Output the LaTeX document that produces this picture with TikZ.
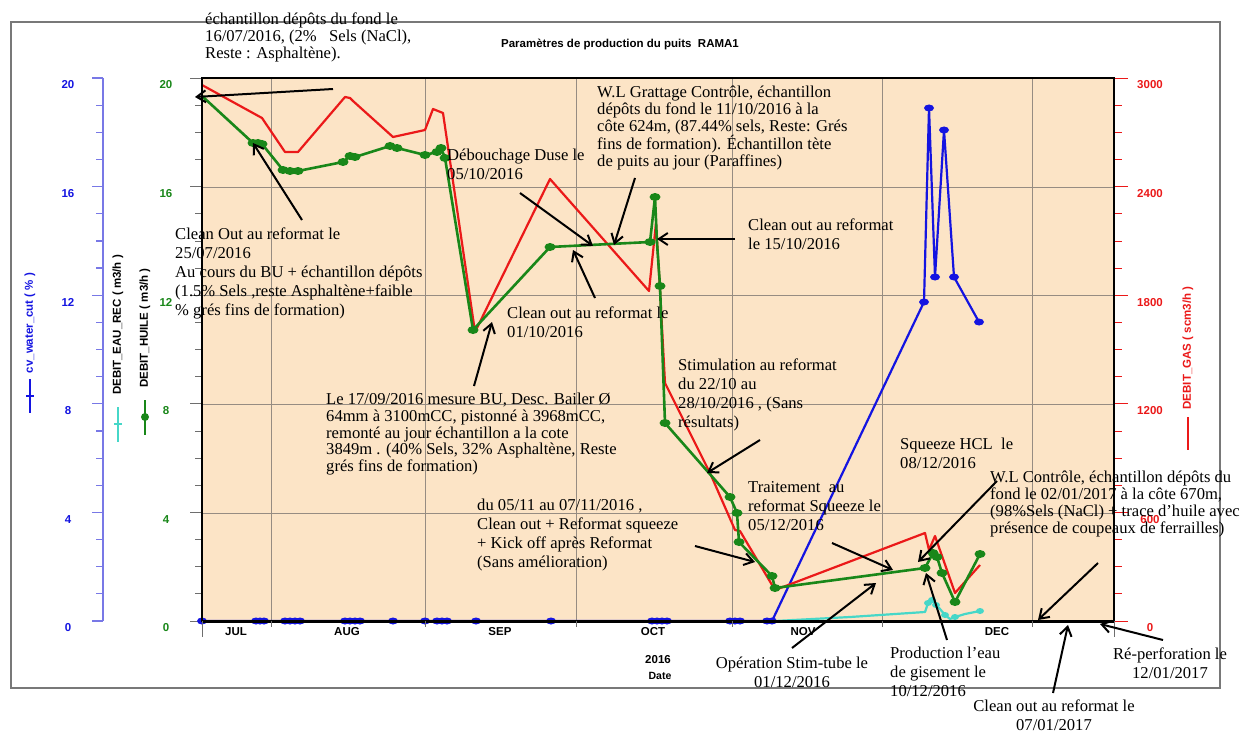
\documentclass[tikz,border=0pt]{standalone}
\usepackage{fontspec}
\setmainfont{Liberation Serif}
\setsansfont{Liberation Sans}
\usepackage{tikz}
\usetikzlibrary{positioning, calc, arrows.meta}
\definecolor{rmPeach}{RGB}{252,228,198}
\definecolor{rmBlue}{RGB}{20,20,225}
\definecolor{rmAxis}{RGB}{120,120,230}
\definecolor{rmGreen}{RGB}{25,135,25}
\definecolor{rmRed}{RGB}{235,25,25}
\definecolor{rmCyan}{RGB}{70,215,200}
\definecolor{rmGrid}{RGB}{150,140,130}
\definecolor{rmFrame}{RGB}{120,120,120}
\definecolor{rmTick}{RGB}{110,110,110}
\tikzset{
    base/.style={
        font=\sffamily\bfseries\fontsize{11.5}{13}\selectfont,
        inner sep=0pt
    },
    note/.style={
        font=\fontsize{16.6}{19}\selectfont,
        align=left,
        anchor=north west,
        inner sep=0pt
    },
    tight/.style={
        font=\fontsize{16.6}{16.7}\selectfont
    },
    pointer/.style={
        -{Straight Barb[length=9pt, width=12pt]},
        line width=2pt,
        black
    },
    gridline/.style={
        rmGrid,
        line width=0.7pt
    },
    series/.style={
        line width=2.2pt,
        line join=round
    }
}

\begin{document}
\begin{tikzpicture}[x=1pt, y=-1pt]
    \useasboundingbox (0,0) rectangle (1240,733);
    \fill[white] (0,0) rectangle (1240,733);

    % Outer frame and title
    \draw[rmFrame, line width=1.5pt] (11,22) rectangle (1220,688);
    \node[base] (title) at (620,44) {Paramètres de production du puits\ \ RAMA1};

    % Plot area and grid
    \fill[rmPeach] (202,78) rectangle (1114,621);
    \foreach \y in {187,295,404,513}
        \draw[gridline] (202,\y) -- (1114,\y);
    \foreach \x in {271,425,576,732,882,1032}
        \draw[gridline] (\x,78) -- (\x,621);

    % Left axis: cv_water_cut
    \draw[rmAxis, line width=1.2pt] (103,78) -- (103,621);
    \foreach \k in {0,...,20}
        \draw[rmAxis, line width=1.2pt] (96,{78+27.15*\k}) -- (103,{78+27.15*\k});
    \foreach \k in {0,...,5}
        \draw[rmAxis, line width=1.2pt] (92,{78+108.6*\k}) -- (103,{78+108.6*\k});
    \foreach \v [count=\i from 0] in {20,16,12,8,4,0}
        \node[base, text=rmBlue] at (68,{85+108.6*\i}) {\v};

    % Left axis: DEBIT_HUILE
    \foreach \k in {0,...,20}
        \draw[rmTick, line width=0.8pt] (195,{78+27.15*\k}) -- (202,{78+27.15*\k});
    \foreach \k in {0,...,5}
        \draw[rmTick, line width=0.8pt] (190,{78+108.6*\k}) -- (202,{78+108.6*\k});
    \foreach \v [count=\i from 0] in {20,16,12,8,4,0}
        \node[base, text=rmGreen] at (166,{85+108.6*\i}) {\v};

    % Right axis: DEBIT_GAS
    \foreach \k in {0,...,20}
        \draw[rmRed, line width=0.8pt] (1114,{78+27.15*\k}) -- (1122,{78+27.15*\k});
    \foreach \k in {0,...,5}
        \draw[rmRed, line width=0.8pt] (1114,{78+108.6*\k}) -- (1128,{78+108.6*\k});
    \foreach \v [count=\i from 0] in {3000,2400,1800,1200,600,0}
        \node[base, text=rmRed] at (1150,{85+108.6*\i}) {\v};

    % Axis titles with legend marks
    \node[base, rotate=90, text=rmBlue] (cvlbl) at (30,323) {cv\_water\_cut ( \% )};
    \draw[rmBlue, line width=2pt] (30,379) -- (30,413);
    \draw[rmBlue, line width=1.5pt] (26,396) -- (34,396);
    \node[base, rotate=90] (eaulbl) at (118,325) {DEBIT\_EAU\_REC ( m3/h )};
    \draw[rmCyan, line width=2pt] (118,407) -- (118,442);
    \draw[rmCyan, line width=1.5pt] (114,424) -- (122,424);
    \node[base, rotate=90] (huilelbl) at (145,328) {DEBIT\_HUILE ( m3/h )};
    \draw[rmGreen, line width=2pt] (145,400) -- (145,435);
    \fill[rmGreen] (145,417) circle (4pt);
    \node[base, rotate=90, text=rmRed] (gaslbl) at (1188,348) {DEBIT\_GAS ( scm3/h )};
    \draw[rmRed, line width=2pt] (1188,417) -- (1188,450);

    % Month labels
    \foreach \m/\x in {JUL/236, AUG/347, SEP/500, OCT/653, NOV/803, DEC/997}
        \node[base] at (\x,632) {\m};
    \node[base] (year) at (658,660) {2016};
    \node[base, font=\sffamily\bfseries\fontsize{10.5}{12}\selectfont] (datelbl) at (660,676) {Date};

    % Water cut
    \draw[rmBlue, series] (202,621) -- (772,621) -- (924,302) -- (929,108)
        -- (935,277) -- (944,130) -- (954,277) -- (979,322);
    \foreach \x in {202,256,260,264,285,290,295,300,345,350,355,360,393,425,437,442,447,476,551,652,657,662,667,730,735,740,767,772}
        \fill[rmBlue] (\x,621) ellipse (5pt and 3.5pt);
    \foreach \p in {(924,302),(929,108),(935,277),(944,130),(954,277),(979,322)}
        \fill[rmBlue] \p ellipse (5pt and 3.5pt);

    % Water rate
    \draw[rmCyan, series] (775,621) -- (850,617) -- (925,612) -- (928,603) -- (932,600)
        -- (936,605) -- (940,609) -- (945,615) -- (950,619) -- (955,617) -- (965,614) -- (980,611);
    \foreach \p in {(928,603),(932,600),(936,605),(945,615),(955,617),(980,611)}
        \fill[rmCyan] \p ellipse (4pt and 3pt);

    % Gas rate
    \draw[rmRed, series] (202,85) -- (262,118) -- (285,152) -- (298,152) -- (345,97)
        -- (350,98) -- (353,101) -- (393,137) -- (425,130) -- (433,109) -- (443,113)
        -- (475,332) -- (550,179) -- (649,291) -- (656,223) -- (660,290) -- (665,383)
        -- (710,473) -- (735,530) -- (740,531) -- (775,590) -- (925,533) -- (929,550)
        -- (935,536) -- (955,593) -- (980,565);

    % Oil rate
    \draw[rmGreen, series, line width=2.6pt] (202,96) -- (253,143) -- (258,143) -- (262,144)
        -- (283,170) -- (290,171) -- (298,171) -- (343,162) -- (350,156) -- (355,157)
        -- (390,146) -- (397,148) -- (425,155) -- (437,152) -- (441,148) -- (445,158)
        -- (473,330) -- (550,247) -- (650,242) -- (655,197) -- (657,243) -- (660,286)
        -- (665,423) -- (730,497) -- (737,513) -- (739,542) -- (772,576) -- (775,588)
        -- (925,568) -- (933,553) -- (937,557) -- (942,573) -- (955,602) -- (980,554);
    \foreach \p in {(253,143),(258,143),(262,144),(283,170),(290,171),(298,171),
        (343,162),(350,156),(355,157),(390,146),(397,148),(425,155),(437,152),
        (441,148),(445,158),(473,330),(550,247),(650,242),(655,197),(660,286),
        (665,423),(730,497),(737,513),(739,542),(772,576),(775,588),(925,568),
        (933,553),(937,557),(942,573),(955,602),(980,554)}
        \fill[rmGreen] \p ellipse (5.5pt and 4pt);

    % Plot frame and date axis
    \draw[black, line width=2pt] (202,78) rectangle (1114,621);
    \draw[black, line width=3pt] (202,621) -- (1114,621);
    \draw[rmRed, line width=1pt] (1114,621) -- (1128,621);
    \draw[rmTick, line width=1pt] (202,621) -- (202,637);
    \draw[rmTick, line width=1pt] (1114,621) -- (1114,637);
    \foreach \x in {271,425,576,732,882,1032}
        \draw[rmTick, line width=1pt] (\x,621) -- (\x,627);

    % Annotations
    \node[note, tight] (noteJul16) at (205,13) {échantillon dépôts du fond le\\16/07/2016, (2\%\ \ \ Sels (NaCl),\\Reste : Asphaltène).};
    \node[note] (noteJul25) at (175,228) {Clean Out au reformat le\\25/07/2016\\Au cours du BU + échantillon dépôts\\(1.5\% Sels ,reste Asphaltène+faible\\\% grés fins de formation)};
    \node[note, tight] (noteSep17) at (326,393) {Le 17/09/2016 mesure BU, Desc. Bailer Ø\\64mm à 3100mCC, pistonné à 3968mCC,\\remonté au jour échantillon a la cote\\3849m . (40\% Sels, 32\% Asphaltène, Reste\\grés fins de formation)};
    \node[note] (noteOct05) at (447,149) {Débouchage Duse le\\05/10/2016};
    \node[note, tight] (noteOct11) at (597,86) {W.L Grattage Contrôle, échantillon\\dépôts du fond le 11/10/2016 à la\\côte 624m, (87.44\% sels, Reste: Grés\\fins de formation). Échantillon tète\\de puits au jour (Paraffines)};
    \node[note] (noteOct15) at (748,219) {Clean out au reformat\\le 15/10/2016};
    \node[note] (noteOct01) at (507,307) {Clean out au reformat le\\01/10/2016};
    \node[note] (noteOct22) at (678,359) {Stimulation au reformat\\du 22/10 au\\28/10/2016 , (Sans\\résultats)};
    \node[note] (noteNov05) at (477,499) {du 05/11 au 07/11/2016 ,\\Clean out + Reformat squeeze\\+ Kick off après Reformat\\(Sans amélioration)};
    \node[note] (noteDec05) at (748,481) {Traitement\ \ au\\reformat Squeeze le\\05/12/2016};
    \node[note] (noteDec08) at (900,438) {Squeeze HCL\ \ le\\08/12/2016};
    \node[note, font=\fontsize{16.6}{17}\selectfont] (noteJan02) at (990,471) {W.L Contrôle, échantillon dépôts du\\fond le 02/01/2017 à la côte 670m,\\(98\%Sels (NaCl) + trace d’huile avec\\présence de coupeaux de ferrailles)};
    \node[note, align=center, anchor=north] (noteDec01) at (792,657) {Opération Stim-tube le\\01/12/2016};
    \node[note] (noteDec10) at (890,647) {Production l’eau\\de gisement le\\10/12/2016};
    \node[note, align=center, anchor=north] (noteJan12) at (1170,648) {Ré-perforation le\\12/01/2017};
    \node[note, align=center, anchor=north] (noteJan07) at (1054,700) {Clean out au reformat le\\07/01/2017};

    % Pointers
    \coordinate (tailJul16) at (333,89);   \coordinate (tipJul16) at (195,97);
    \coordinate (tailJul25) at (302,220);  \coordinate (tipJul25) at (253,143);
    \coordinate (tailSep17) at (474,386);  \coordinate (tipSep17) at (492,322);
    \coordinate (tailOct05) at (520,193);  \coordinate (tipOct05) at (593,246);
    \coordinate (tailOct11) at (635,178);  \coordinate (tipOct11) at (614,245);
    \coordinate (tailOct15) at (735,239);  \coordinate (tipOct15) at (657,239);
    \coordinate (tailOct01) at (595,298);  \coordinate (tipOct01) at (573,250);
    \coordinate (tailOct22) at (760,440);  \coordinate (tipOct22) at (707,473);
    \coordinate (tailNov05) at (695,546);  \coordinate (tipNov05) at (755,562);
    \coordinate (tailDec05) at (832,543);  \coordinate (tipDec05) at (893,570);
    \coordinate (tailJan02) at (997,481);  \coordinate (tipJan02) at (918,562);
    \coordinate (tailDec01) at (792,648);  \coordinate (tipDec01) at (876,583);
    \coordinate (tailDec10) at (947,640);  \coordinate (tipDec10) at (926,573);
    \coordinate (tailFree) at (1098,563);  \coordinate (tipFree) at (1038,620);
    \coordinate (tailJan07) at (1053,693); \coordinate (tipJan07) at (1068,625);
    \coordinate (tailJan12) at (1163,640); \coordinate (tipJan12) at (1100,624);
    \foreach \n in {Jul16,Jul25,Sep17,Oct05,Oct11,Oct15,Oct01,Oct22,Nov05,Dec05,Jan02,Dec01,Dec10,Free,Jan07,Jan12}
        \draw[pointer] (tail\n) -- (tip\n);

\end{tikzpicture}
\end{document}
